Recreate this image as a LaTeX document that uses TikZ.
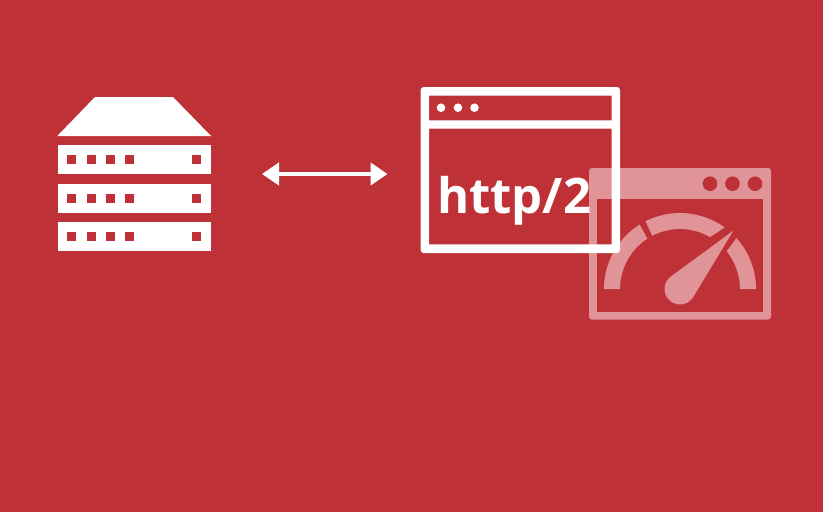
\documentclass[tikz,border=0pt]{standalone}
\usepackage{fontspec}
\setmainfont{Open Sans}
\usetikzlibrary{arrows.meta}
\definecolor{bgred}{RGB}{190,49,55}
\definecolor{pale}{RGB}{224,148,151}
\tikzset{
  whitefill/.style={fill=white,draw=none},
  hole/.style={fill=bgred,draw=none},
  palefill/.style={fill=pale,draw=none},
  link/.style={draw=white,line width=4.2pt,{Triangle[width=22pt,length=17pt]}-{Triangle[width=22pt,length=17pt]}},
}
\begin{document}
\begin{tikzpicture}[x=1pt,y=-1pt]
\path[use as bounding box,fill=bgred] (0,0) rectangle (823,512);
% server
\fill[whitefill] (95,97) -- (173,97) -- (211,136) -- (57.3,136) -- cycle;
\foreach \t/\sq in {145/155,183.5/193.5,222/232}{
  \fill[whitefill] (57.5,\t) rectangle ++(153.5,29);
  \foreach \sx in {67,86.5,105.7,125,192}{
    \fill[hole] (\sx,\sq) rectangle ++(9.4,9.4);
  }
}
% arrow
\coordinate (serverEnd) at (262,174);
\coordinate (clientEnd) at (387.5,174);
\draw[link] (serverEnd) -- (clientEnd);
% gauge window
\fill[palefill,even odd rule,rounded corners=3pt] (589,168) rectangle (771,319.5);
\fill[hole] (596.7,198.7) rectangle (763.3,312);
\foreach \dx in {710,732.5,755}{
  \fill[hole] (\dx,183.7) circle[radius=7.3];
}
\begin{scope}[shift={(680,289)},x=1pt,y=1pt]
  \fill[palefill] (180:76) arc[start angle=180,end angle=122,radius=76] -- (123:60) arc[start angle=123,end angle=180,radius=60] -- cycle;
  \fill[palefill] (117:76) arc[start angle=117,end angle=54,radius=76] -- (60:60) arc[start angle=60,end angle=117.5,radius=60] -- cycle;
  \fill[palefill] (42:76) arc[start angle=42,end angle=0,radius=76] -- (0:60) arc[start angle=0,end angle=39,radius=60] -- cycle;
  \fill[palefill] (53.3,58.3) -- (124.2:15.5) arc[start angle=124.2,end angle=325.8,radius=15.5] -- cycle;
\end{scope}
% browser window
\fill[whitefill,even odd rule] [rounded corners=3pt] (420.7,87) rectangle (620,253)
  [sharp corners] (429,95.7) rectangle (611.5,120.3)
  (429,128.7) rectangle (611.5,244.3);
\foreach \dx in {441,458,474.5}{
  \fill[whitefill] (\dx,107.7) circle[radius=4.3];
}
\node[text=white,inner sep=0pt,anchor=base,font=\fontsize{49}{49}\selectfont\bfseries] (httplabel) at (514,213) {http/2};
\end{tikzpicture}
\end{document}
